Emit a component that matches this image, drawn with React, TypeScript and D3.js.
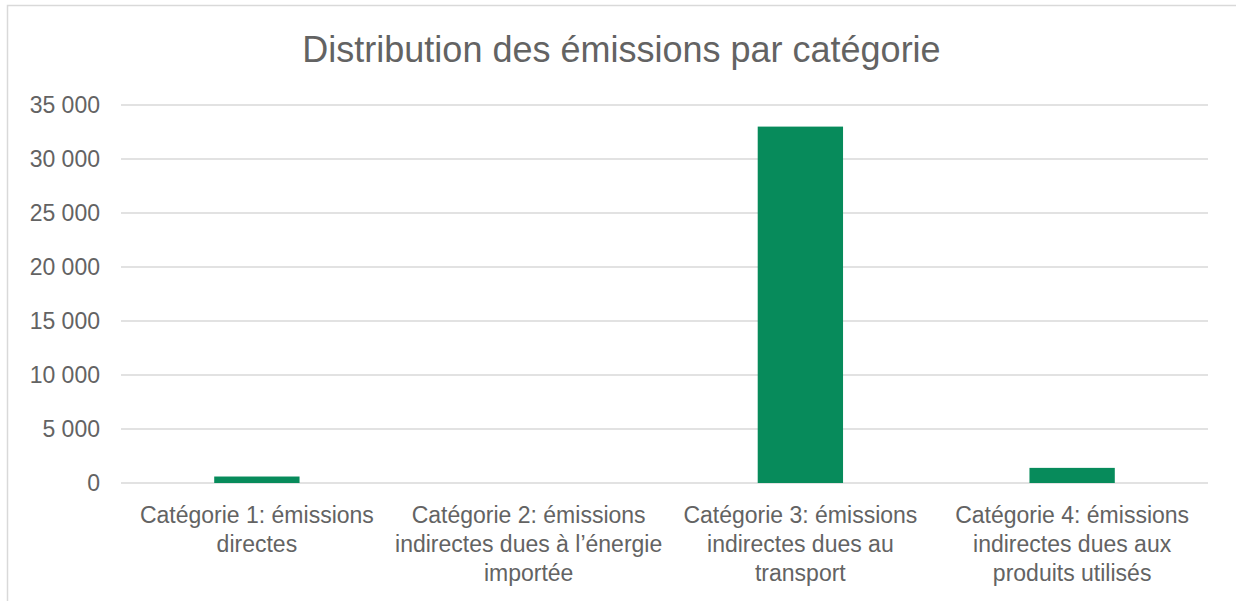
import React from "react";
import * as d3 from "d3";

const title = "Distribution des émissions par catégorie";
const categories = [
  ["Catégorie 1: émissions", "directes"],
  ["Catégorie 2: émissions", "indirectes dues à l’énergie", "importée"],
  ["Catégorie 3: émissions", "indirectes dues au", "transport"],
  ["Catégorie 4: émissions", "indirectes dues aux", "produits utilisés"],
];
const values = [600, 0, 33000, 1400];
const yTicks = [0, 5000, 10000, 15000, 20000, 25000, 30000, 35000];

const W = 1236;
const H = 601;
const M = { left: 121, right: 1208, top: 105, bottom: 483 };
const FONT = "'Liberation Sans', Arial, sans-serif";
const TXT = "#636363";
const GRID = "#d9d9d9";
const BAR = "#078b5b";

const fmt = (v: number) => d3.format(",")(v).replace(/,/g, " ");

export default function App() {
  const x = d3
    .scaleBand<number>()
    .domain(categories.map((_, i) => i))
    .range([M.left, M.right])
    .padding(0);
  const y = d3.scaleLinear().domain([0, 35000]).range([M.bottom, M.top]);
  const bw = x.bandwidth() * 0.314;

  return (
    <svg
      width={W}
      height={H}
      style={{ position: "absolute", left: 0, top: 0, background: "#fff" }}
      fontFamily={FONT}
    >
      <rect x={0} y={0} width={W} height={H} fill="#fff" />
      <rect
        x={7.5}
        y={5.5}
        width={W + 20}
        height={H + 20}
        fill="none"
        stroke={GRID}
        strokeWidth={1.5}
      />
      <text
        x={621.5}
        y={62}
        textAnchor="middle"
        fontSize={36}
        fill={TXT}
      >
        {title}
      </text>
      {yTicks.map((t) => (
        <g key={t}>
          <line
            x1={M.left}
            x2={M.right}
            y1={y(t)}
            y2={y(t)}
            stroke={GRID}
            strokeWidth={1.5}
          />
          <text
            x={100}
            y={y(t) + 8}
            textAnchor="end"
            fontSize={23}
            fill={TXT}
          >
            {fmt(t)}
          </text>
        </g>
      ))}
      {values.map((v, i) => {
        const cx = (x(i) as number) + x.bandwidth() / 2;
        return (
          <rect
            key={i}
            x={cx - bw / 2}
            width={bw}
            y={y(v)}
            height={y(0) - y(v)}
            fill={BAR}
          />
        );
      })}
      {categories.map((lines, i) => {
        const cx = (x(i) as number) + x.bandwidth() / 2;
        return (
          <text key={i} textAnchor="middle" fontSize={23} fill={TXT}>
            {lines.map((l, j) => (
              <tspan key={j} x={cx} y={523 + j * 29}>
                {l}
              </tspan>
            ))}
          </text>
        );
      })}
    </svg>
  );
}
